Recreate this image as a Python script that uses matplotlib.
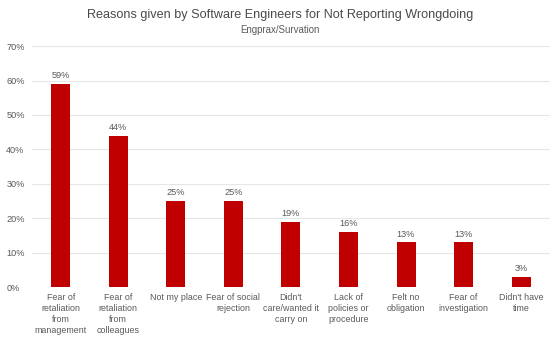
import numpy as np
import matplotlib
matplotlib.use("Agg")
import matplotlib.pyplot as plt
from matplotlib.ticker import PercentFormatter

plt.rcParams['font.family'] = ['Liberation Sans', 'DejaVu Sans']

reasons = [
    "Fear of\nretaliation\nfrom\nmanagement",
    "Fear of\nretaliation\nfrom\ncolleagues",
    "Not my place",
    "Fear of social\nrejection",
    "Didn't\ncare/wanted it\ncarry on",
    "Lack of\npolicies or\nprocedure",
    "Felt no\nobligation",
    "Fear of\ninvestigation",
    "Didn't have\ntime",
]
share = [59, 44, 25, 25, 19, 16, 13, 13, 3]
y_ticks = [0, 10, 20, 30, 40, 50, 60, 70]

text_grey = "#595959"

fig = plt.figure(figsize=(5.6, 3.39), dpi=100)
ax = fig.add_axes([0.057, 0.153, 0.925, 0.711])

x = np.arange(len(reasons))
bars = ax.bar(x, share, width=0.33, color="#C00000", zorder=3)

for b, v in zip(bars, share):
    ax.text(b.get_x() + b.get_width() / 2, v + 1.1, f"{v}%",
            ha="center", va="bottom", fontsize=6.6, color=text_grey)

ax.set_xlim(-0.5, len(reasons) - 0.5)
ax.set_ylim(0, 70)
ax.set_yticks(y_ticks)
ax.yaxis.set_major_formatter(PercentFormatter(decimals=0))
ax.set_xticks(x)
ax.set_xticklabels(reasons, fontsize=6.4, color=text_grey, linespacing=1.3)
# pad is in points; left-aligned labels start near the figure edge
ax.tick_params(axis="y", labelsize=6.6, labelcolor=text_grey, length=0, pad=18.5)
ax.tick_params(axis="x", length=0, pad=4)
for lbl in ax.get_yticklabels():
    lbl.set_horizontalalignment("left")

ax.grid(axis="y", color="#e6e6e6", linewidth=0.8, zorder=0)
for s in ax.spines.values():
    s.set_visible(False)

fig.text(0.5, 0.955, "Reasons given by Software Engineers for Not Reporting Wrongdoing",
         ha="center", va="center", fontsize=9.1, color="#4a4a4a")
fig.text(0.5, 0.912, "Engprax/Survation", ha="center", va="center",
         fontsize=6.9, color=text_grey)

fig.savefig("out.png", dpi=100)
